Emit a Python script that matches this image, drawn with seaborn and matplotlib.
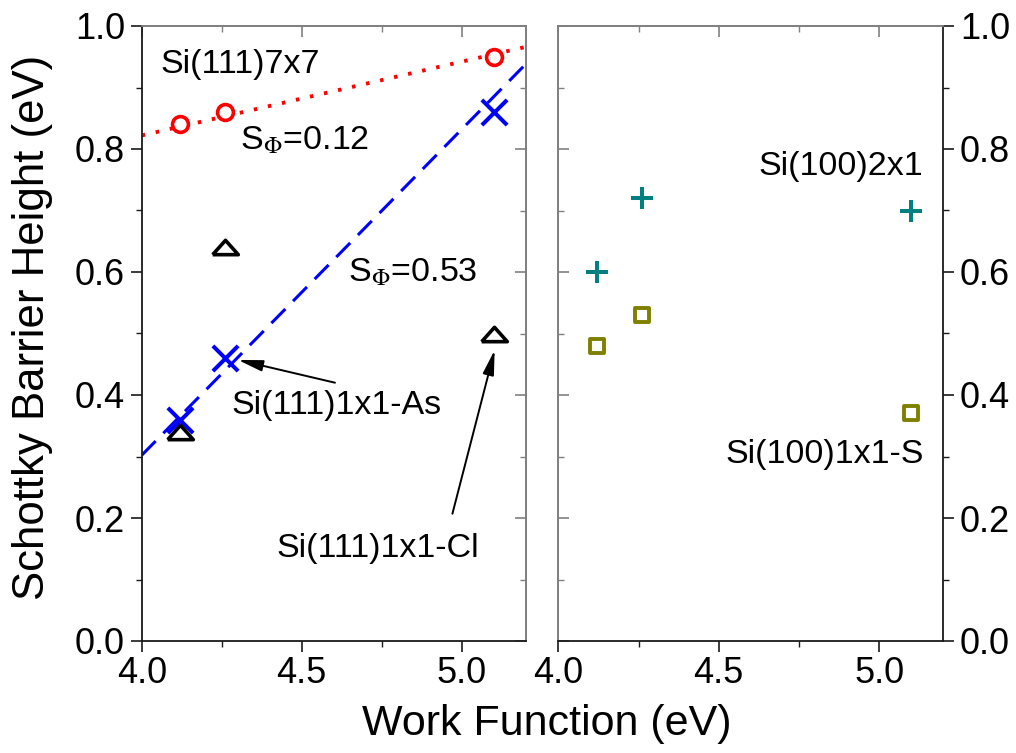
import numpy as np
import pandas as pd
import matplotlib
matplotlib.use("Agg")
import matplotlib.pyplot as plt
import seaborn as sns
from matplotlib.ticker import MultipleLocator

# Metal work functions (eV) shared by every surface
work_function = [4.12, 4.26, 5.10]

# Schottky barrier heights (eV)
sbh_111_7x7 = [0.84, 0.86, 0.95]
sbh_111_as = [0.36, 0.46, 0.86]
sbh_111_cl = [0.34, 0.64, 0.50]
sbh_100_2x1 = [0.60, 0.72, 0.70]
sbh_100_s = [0.48, 0.53, 0.37]

# Linear trends: slope S_Phi and value at 4.0 eV
fit_range = [4.0, 5.2]
s_phi_7x7, offset_7x7 = 0.12, 0.822
s_phi_as, offset_as = 0.53, 0.302

sns.set_theme(style="ticks")
plt.rcParams["font.family"] = ["Liberation Sans", "DejaVu Sans"]
plt.rcParams["mathtext.fontset"] = "stix"
for key in ("text.color", "axes.labelcolor", "xtick.labelcolor", "ytick.labelcolor"):
    plt.rcParams[key] = "black"

RED, BLUE, BLACK = "#ff0000", "#0000ff", "#000000"
TEAL, OLIVE = "#008080", "#808000"
MAIN_SPINE, INNER_SPINE = "#1a1a1a", "#808080"
TICK_FS, TEXT_FS, XLABEL_FS, YLABEL_FS = 26, 24.5, 31, 31.5

W, H = 1016, 753
fig = plt.figure(figsize=(W / 100, H / 100), dpi=100)
ax1 = fig.add_axes([141.7 / W, 112 / H, 384 / W, 615 / H])
ax2 = fig.add_axes([558.3 / W, 112 / H, 385 / W, 615 / H])

df = pd.DataFrame({
    "wf": work_function,
    "s7x7": sbh_111_7x7,
    "as": sbh_111_as,
    "cl": sbh_111_cl,
    "s2x1": sbh_100_2x1,
    "s1x1": sbh_100_s,
})

fx = np.array(fit_range)
fit_df = pd.DataFrame({
    "wf": fx,
    "f7x7": offset_7x7 + s_phi_7x7 * (fx - fit_range[0]),
    "fas": offset_as + s_phi_as * (fx - fit_range[0]),
})

# Flattened open triangle marker
tri = [(-1, -0.56), (1, -0.56), (0, 0.56), (-1, -0.56)]

# ---- left panel: Si(111) surfaces ----
sns.lineplot(data=fit_df, x="wf", y="f7x7", ax=ax1, color=RED, lw=2.8,
             linestyle=(0, (0.9, 2.8)), dash_capstyle="butt")
sns.lineplot(data=fit_df, x="wf", y="fas", ax=ax1, color=BLUE, lw=2.2,
             linestyle=(0, (6.5, 3.6)))
sns.scatterplot(data=df, x="wf", y="s7x7", ax=ax1, marker="o", s=130,
                color=RED, facecolor="white", edgecolor=RED, linewidth=2.6,
                zorder=4)
sns.scatterplot(data=df, x="wf", y="as", ax=ax1, marker="x", s=330,
                color=BLUE, linewidth=2.9, zorder=4)
sns.scatterplot(data=df, x="wf", y="cl", ax=ax1, marker=tri, s=340,
                color=BLACK, facecolor="white", edgecolor=BLACK, linewidth=2.6,
                zorder=5)

ax1.text(4.059, 0.937, "Si(111)7x7", fontsize=TEXT_FS, va="center", ha="left")
ax1.text(4.307, 0.800, r"S$_{\Phi}$=" + f"{s_phi_7x7:.2f}", fontsize=TEXT_FS,
         va="baseline", ha="left")
ax1.text(4.645, 0.584, r"S$_{\Phi}$=" + f"{s_phi_as:.2f}", fontsize=TEXT_FS,
         va="baseline", ha="left")
ax1.text(4.281, 0.383, "Si(111)1x1-As", fontsize=TEXT_FS, va="center", ha="left")
ax1.text(4.4225, 0.151, "Si(111)1x1-Cl", fontsize=TEXT_FS, va="center", ha="left")

arrow = dict(arrowstyle="-|>,head_length=0.75,head_width=0.17", color=BLACK,
             lw=1.4, shrinkA=0, shrinkB=0, mutation_scale=20)
ax1.annotate("", xy=(4.301, 0.457), xytext=(4.604, 0.420), arrowprops=arrow)
ax1.annotate("", xy=(5.103, 0.473), xytext=(4.971, 0.207), arrowprops=arrow)

# ---- right panel: Si(100) surfaces ----
sns.scatterplot(data=df, x="wf", y="s2x1", ax=ax2, marker="+", s=270,
                color=TEAL, linewidth=2.9, zorder=4)
sns.scatterplot(data=df, x="wf", y="s1x1", ax=ax2, marker="s", s=115,
                color=OLIVE, facecolor="white", edgecolor=OLIVE, linewidth=2.8,
                zorder=4)
ax2.text(5.138, 0.772, "Si(100)2x1", fontsize=TEXT_FS, va="center", ha="right")
ax2.text(5.138, 0.304, "Si(100)1x1-S", fontsize=TEXT_FS, va="center", ha="right")

# ---- axes styling ----
tick_major = dict(length=8, width=1.2)
tick_minor = dict(length=4.3, width=1.0)

for ax in (ax1, ax2):
    ax.set_xlim(4.0, 5.2)
    ax.set_ylim(0.0, 1.0)
    ax.xaxis.set_major_locator(MultipleLocator(0.5))
    ax.xaxis.set_minor_locator(MultipleLocator(0.25))
    ax.yaxis.set_major_locator(MultipleLocator(0.2))
    ax.yaxis.set_minor_locator(MultipleLocator(0.1))
    ax.xaxis.set_major_formatter(lambda v, p: f"{v:.1f}")
    ax.yaxis.set_major_formatter(lambda v, p: f"{v:.1f}")
    ax.set_xlabel("")
    ax.set_ylabel("")
    ax.tick_params(axis="x", which="major", direction="out", labelsize=TICK_FS,
                   pad=3, color=MAIN_SPINE, labelcolor="black", **tick_major)
    ax.tick_params(axis="x", which="minor", direction="out", color=MAIN_SPINE,
                   **tick_minor)
    ax.tick_params(axis="y", which="major", direction="out", labelsize=TICK_FS,
                   pad=4, color=MAIN_SPINE, labelcolor="black", **tick_major)
    ax.tick_params(axis="y", which="minor", direction="out", color=MAIN_SPINE,
                   **tick_minor)
    for sp in ax.spines.values():
        sp.set_visible(True)
        sp.set_linewidth(1.3)
    ax.spines["bottom"].set_color(MAIN_SPINE)
    ax.spines["top"].set_color(INNER_SPINE)

    top = ax.secondary_xaxis("top")
    top.xaxis.set_major_locator(MultipleLocator(0.5))
    top.xaxis.set_minor_locator(MultipleLocator(0.25))
    top.tick_params(which="major", direction="in", labeltop=False,
                    color=INNER_SPINE, **tick_major)
    top.tick_params(which="minor", direction="in", color=INNER_SPINE, **tick_minor)
    top.spines["top"].set_color(INNER_SPINE)
    top.spines["top"].set_linewidth(1.3)

ax1.spines["left"].set_color(MAIN_SPINE)
ax1.spines["right"].set_color(INNER_SPINE)
ax2.spines["right"].set_color(MAIN_SPINE)
ax2.spines["left"].set_color(INNER_SPINE)

ax2.yaxis.tick_right()

inner1 = ax1.secondary_yaxis("right")
inner2 = ax2.secondary_yaxis("left")
for sec, side in ((inner1, "right"), (inner2, "left")):
    sec.yaxis.set_major_locator(MultipleLocator(0.2))
    sec.yaxis.set_minor_locator(MultipleLocator(0.1))
    sec.tick_params(which="major", direction="in", labelleft=False,
                    labelright=False, color=INNER_SPINE, **tick_major)
    sec.tick_params(which="minor", direction="in", color=INNER_SPINE, **tick_minor)
    sec.spines[side].set_color(INNER_SPINE)
    sec.spines[side].set_linewidth(1.3)

ax1.set_ylabel("Schottky Barrier Height (eV)", fontsize=YLABEL_FS, color="black")
ax1.yaxis.set_label_coords(-0.232, 0.51)
fig.text(0.538, 0.0239, "Work Function (eV)", fontsize=XLABEL_FS,
         ha="center", va="baseline", color="black")

fig.savefig("out.png", dpi=100)
